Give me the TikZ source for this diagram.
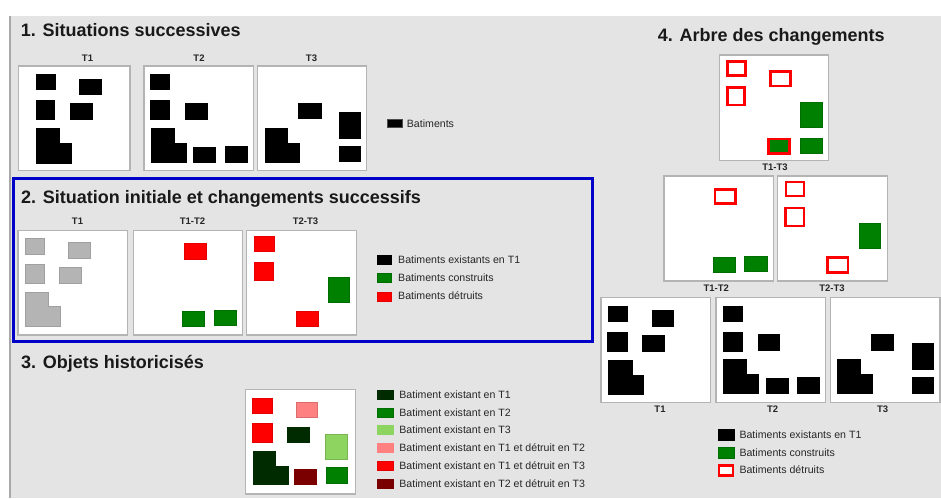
\documentclass[tikz,border=0pt]{standalone}
\usepackage{fontspec}
\setmainfont{Liberation Sans}
\definecolor{bggray}{HTML}{E4E4E4}
\definecolor{framegray}{HTML}{B4B4B4}
\definecolor{sidegray}{HTML}{A8A8A8}
\definecolor{bgreen}{HTML}{008000}
\definecolor{bred}{HTML}{FF0000}
\definecolor{dgreen}{HTML}{002A00}
\definecolor{lgreen}{HTML}{8DD460}
\definecolor{pinkred}{HTML}{FF8080}
\definecolor{dred}{HTML}{7A0000}
\definecolor{oldgray}{HTML}{B4B4B4}
\definecolor{oldgrayedge}{HTML}{A0A0A0}
\definecolor{selblue}{HTML}{0000C8}
\tikzset{
  panel/.style={draw=framegray, line width=1.3pt, fill=white},
  blk/.style={fill=black, draw=black, line width=0.4pt},
  grn/.style={fill=bgreen, draw=bgreen!85!black, line width=0.4pt},
  rd/.style={fill=bred, draw=bred!90!black, line width=0.4pt},
  old/.style={fill=oldgray, draw=oldgrayedge, line width=0.6pt},
  dgr/.style={fill=dgreen, draw=dgreen, line width=0.4pt},
  lgr/.style={fill=lgreen, draw=lgreen!85!black, line width=0.4pt},
  pnk/.style={fill=pinkred, draw=pinkred!85!black, line width=0.4pt},
  drd/.style={fill=dred, draw=dred, line width=0.4pt},
  destr/.style={draw=bred, line width=2.6pt, fill=white},
  destrgrn/.style={draw=bred, line width=2.6pt, fill=bgreen},
  title/.style={anchor=base west, inner sep=0pt, font=\fontsize{18}{20}\selectfont\bfseries, text=black!90},
  tlabel/.style={anchor=base, inner sep=0pt, font=\fontsize{9.5}{11}\selectfont\bfseries, text=black!85},
  legtext/.style={anchor=base west, inner sep=0pt, font=\fontsize{10.6}{12}\selectfont, text=black!85},
}
\begin{document}
\begin{tikzpicture}[x=1pt, y=-1pt]
\useasboundingbox (0,0) rectangle (941,498);
% background
\fill[white] (0,0) rectangle (941,498);
\fill[bggray] (10,16) rectangle (941,498);
\draw[sidegray, line width=2pt] (10,16) -- (10,498);

% ---------- 1. Situations successives ----------
\node[title] (t1) at (20.7,36) {1. Situations successives};
\node[tlabel] (s1l1) at (87.5,61) {T1};
\node[tlabel] (s1l2) at (199,61) {T2};
\node[tlabel] (s1l3) at (311.5,61) {T3};
\draw[panel] (18.3,66) rectangle (130,170.7);
\draw[panel] (144,66) rectangle (253.3,170.7);
\draw[panel] (257.7,66) rectangle (366.7,170.7);
% T1
\draw[blk] (35.7,74) rectangle (55,89.3);
\draw[blk] (79,78.7) rectangle (101,94.3);
\draw[blk] (35.7,100) rectangle (54.3,119);
\draw[blk] (70.3,103.3) rectangle (92.3,119);
\draw[blk] (36,128) rectangle (59.3,162.7);
\draw[blk] (43.3,143.3) rectangle (71,162.7);
% T2
\draw[blk] (150,74) rectangle (169.3,89.3);
\draw[blk] (150,100) rectangle (169.3,119);
\draw[blk] (185,103.3) rectangle (206.7,119);
\draw[blk] (150.7,128) rectangle (174,161.7);
\draw[blk] (158.3,142.7) rectangle (185.7,161.7);
\draw[blk] (193,146.7) rectangle (215,161.7);
\draw[blk] (225,145.7) rectangle (246.7,161.7);
% T3
\draw[blk] (298.3,103.3) rectangle (320.7,117.7);
\draw[blk] (338.7,112.3) rectangle (360.3,137.7);
\draw[blk] (338.7,145.7) rectangle (360.3,161);
\draw[blk] (264.7,128) rectangle (287.3,161.7);
\draw[blk] (272.7,142.7) rectangle (299,161.7);
% legend
\draw[blk, draw=black!70] (386.7,119) rectangle (402.3,127.3);
\node[legtext] (s1leg) at (406.7,127) {Batiments};

% ---------- 2. Situation initiale et changements successifs ----------
\draw[selblue, line width=3pt] (13,178.2) rectangle (592.8,341.3);
\node[title] (t2) at (21,203.3) {2. Situation initiale et changements successifs};
\node[tlabel] (s2l1) at (77.5,224.5) {T1};
\node[tlabel] (s2l2) at (192.5,224.5) {T1-T2};
\node[tlabel] (s2l3) at (305.5,224.5) {T2-T3};
\draw[panel] (18,230.7) rectangle (127.4,335);
\draw[panel] (133.2,230.7) rectangle (242.3,335);
\draw[panel] (246.8,230.7) rectangle (356.7,335);
% initial state
\draw[old] (24.9,238.3) rectangle (44,254.3);
\draw[old] (68.1,242.7) rectangle (90.3,258.7);
\draw[old] (24.9,264.7) rectangle (44,283.7);
\draw[old] (59.3,267.7) rectangle (81.1,283.7);
\draw[old] (25.6,292) -- (48.6,292) -- (48.6,306.7) -- (60,306.7) -- (60,326) -- (25.6,326) -- cycle;
% changes T1-T2
\draw[rd] (183.7,243.3) rectangle (205.9,258.7);
\draw[grn] (182.2,311) rectangle (204.4,326);
\draw[grn] (213.9,310) rectangle (236.1,325);
% changes T2-T3
\draw[rd] (254.5,235.7) rectangle (274,250.7);
\draw[rd] (254.5,261.7) rectangle (273.3,280);
\draw[grn] (328,276.7) rectangle (349.4,302);
\draw[rd] (295.8,311) rectangle (318,326);
% legend
\draw[blk] (377,255) rectangle (391,264);
\draw[grn] (377,273.3) rectangle (391,282.3);
\draw[rd] (377,291.7) rectangle (391,300.7);
\node[legtext] (s2leg1) at (398,263) {Batiments existants en T1};
\node[legtext] (s2leg2) at (398,281.2) {Batiments construits};
\node[legtext] (s2leg3) at (398,299.5) {Batiments détruits};

% ---------- 3. Objets historicisés ----------
\node[title] (t3) at (21,368.3) {3. Objets historicisés};
\draw[panel] (245.3,389.3) rectangle (355.2,494);
\draw[rd] (252.6,397.7) rectangle (271.7,412.7);
\draw[pnk] (295.8,401.7) rectangle (317.6,417.3);
\draw[rd] (252.6,423.3) rectangle (271.7,442.3);
\draw[dgr] (287,426.7) rectangle (309.2,442.3);
\draw[lgr] (325.3,434.3) rectangle (347.1,459.3);
\draw[dgr] (253.3,450.7) rectangle (275.5,484.3);
\draw[dgr] (260.5,465.7) rectangle (287.8,484.3);
\draw[drd] (293.9,468.7) rectangle (316.1,484);
\draw[grn] (326,467.3) rectangle (347.5,482.7);
% legend
\draw[dgr] (377,390.5) rectangle (393.4,399.5);
\draw[grn] (377,408.2) rectangle (393.4,417.2);
\draw[lgr, draw=lgreen] (377,425.5) rectangle (393.4,434.5);
\draw[pnk, draw=pinkred] (377,443.2) rectangle (393.4,452.2);
\draw[rd] (377,461.2) rectangle (393.4,470.2);
\draw[drd] (377,478.8) rectangle (393.4,487.8);
\node[legtext] (s3leg1) at (399.2,398.8) {Batiment existant en T1};
\node[legtext] (s3leg2) at (399.2,416.5) {Batiment existant en T2};
\node[legtext] (s3leg3) at (399.2,433.8) {Batiment existant en T3};
\node[legtext] (s3leg4) at (399.2,451.5) {Batiment existant en T1 et détruit en T2};
\node[legtext] (s3leg5) at (399.2,469.5) {Batiment existant en T1 et détruit en T3};
\node[legtext] (s3leg6) at (399.2,487.1) {Batiment existant en T2 et détruit en T3};

% ---------- 4. Arbre des changements ----------
\node[title] (t4) at (657.7,41.7) {4. Arbre des changements};
% root: T1-T3
\draw[panel] (719.3,55) rectangle (828.3,160.3);
\draw[destr] (727.3,61.3) rectangle (745.4,75.4);
\draw[destr] (770.3,71.3) rectangle (790.7,86);
\draw[destr] (727.3,87.3) rectangle (744.7,105);
\draw[destrgrn] (768.6,139) rectangle (789.7,153.7);
\draw[grn] (800.3,102.3) rectangle (821.7,127.3);
\draw[grn] (800.3,137.7) rectangle (821.7,153.3);
\node[tlabel] (s4r) at (775,170) {T1-T3};
% T1-T2 and T2-T3
\draw[panel] (664,176) rectangle (773.3,281);
\draw[panel] (777.3,176) rectangle (887.3,281);
\draw[destr] (715,189.6) rectangle (735.7,203.7);
\draw[grn] (713,257.3) rectangle (735,272.3);
\draw[grn] (744.3,256) rectangle (766.7,271);
\draw[destr] (786,182) rectangle (804,196);
\draw[destr] (785.6,208) rectangle (804,226);
\draw[grn] (858.7,222.7) rectangle (880.3,248.3);
\draw[destr] (827.3,257.3) rectangle (848,272.4);
\node[tlabel] (s4a) at (716.2,291.5) {T1-T2};
\node[tlabel] (s4b) at (832,291.5) {T2-T3};
% T1, T2, T3
\draw[panel] (601,297.3) rectangle (710.7,402.3);
\draw[panel] (716,297.3) rectangle (825.7,402.3);
\draw[panel] (830.3,297.3) rectangle (940,402.3);
\draw[blk] (608,305.7) rectangle (627.3,321.3);
\draw[blk] (651.7,310.3) rectangle (673.3,325.7);
\draw[blk] (607.3,331.7) rectangle (626.7,351);
\draw[blk] (642.3,335) rectangle (664.3,350.7);
\draw[blk] (608.3,359.7) rectangle (631.7,394);
\draw[blk] (616.3,374.7) rectangle (643.3,394);
\draw[blk] (723.3,305.7) rectangle (742.3,321.3);
\draw[blk] (722.7,331.7) rectangle (741.7,351);
\draw[blk] (757.7,334.3) rectangle (779.3,350);
\draw[blk] (723.3,359) rectangle (746,393.3);
\draw[blk] (730.7,374.3) rectangle (758,393.3);
\draw[blk] (765.7,378) rectangle (787.7,393.3);
\draw[blk] (797.3,377.3) rectangle (819.3,392.7);
\draw[blk] (871,334.3) rectangle (893.3,350);
\draw[blk] (911.7,343.3) rectangle (933.3,369.3);
\draw[blk] (911.7,377.3) rectangle (933.3,392.7);
\draw[blk] (837,359) rectangle (859.7,393.3);
\draw[blk] (845,374.3) rectangle (872.3,393.3);
\node[tlabel] (s4c) at (660,412.7) {T1};
\node[tlabel] (s4d) at (772.7,412.7) {T2};
\node[tlabel] (s4e) at (882.7,412.7) {T3};
% legend
\draw[blk] (717.7,429.3) rectangle (734.3,440);
\draw[grn] (717.7,447.3) rectangle (734.3,457.7);
\draw[destr, line width=2.5pt] (719,465.3) rectangle (733,475.4);
\node[legtext] (s4leg1) at (739.3,438.1) {Batiments existants en T1};
\node[legtext] (s4leg2) at (739.3,456.1) {Batiments construits};
\node[legtext] (s4leg3) at (739.3,473.8) {Batiments détruits};
\end{tikzpicture}
\end{document}
